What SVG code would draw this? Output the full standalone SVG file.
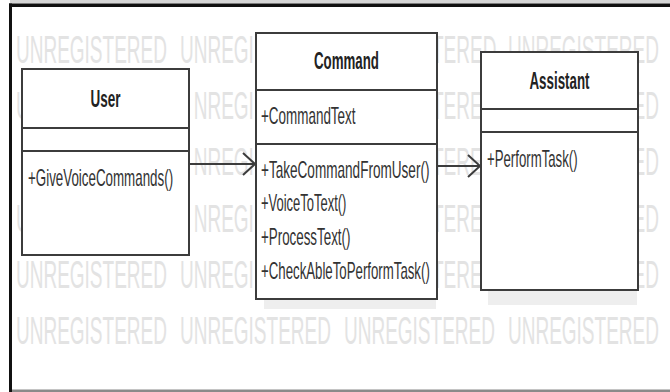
<svg xmlns="http://www.w3.org/2000/svg" width="670" height="392" viewBox="0 0 670 392">
  <style>
    .wm { font-family: "Liberation Sans", Arial, sans-serif; font-size: 38px; fill: #e3e3e3; }
    .box { fill: #ffffff; stroke: #3c3c3c; stroke-width: 2; }
    .sep { stroke: #3c3c3c; stroke-width: 2; }
    .shadow { fill: #eeeeee; }
    .name { font-family: "Liberation Sans", Arial, sans-serif; font-size: 23px; font-weight: bold; fill: #222222; text-anchor: middle; }
    .member { font-family: "Liberation Sans", Arial, sans-serif; font-size: 23px; fill: #333333; }
    .link { fill: none; stroke: #3c3c3c; stroke-width: 2; }
  </style>
  <defs>
    <marker id="open-arrow" markerUnits="userSpaceOnUse" markerWidth="16" markerHeight="26" refX="14" refY="12" orient="auto">
      <path d="M2,1 L14,12 L2,23" fill="none" stroke="#3c3c3c" stroke-width="2"/>
    </marker>
  </defs>

  <!-- page background and frame -->
  <rect x="0" y="0" width="670" height="392" fill="#ffffff"/>
  <rect x="10" y="0" width="660" height="3.5" fill="#d6d6d6"/>
  <rect x="9" y="3.5" width="661" height="3.5" fill="#111111"/>
  <rect x="9" y="3.5" width="3" height="388.5" fill="#111111"/>
  <rect x="12" y="389.5" width="658" height="2.5" fill="#8a8a8a"/>

  <!-- evaluation watermark, condensed to half width; only the parts left uncovered by the class boxes -->
  <g id="watermark" class="wm" transform="scale(0.5,1)">
    <!-- row 1 -->
    <text x="32" y="63">UNREGISTERED</text>
    <text x="360" y="63">UNREGI</text>
    <text x="864" y="63">TERED</text>
    <text x="1016" y="63">UNREGISTERED</text>
    <!-- row 2 -->
    <text x="32" y="119">U</text>
    <text x="387.4" y="119">NREGI</text>
    <text x="864" y="119">TERE</text>
    <text x="1265.2" y="119">ED</text>
    <!-- row 3 -->
    <text x="387.4" y="175">NREGI</text>
    <text x="864" y="175">TERE</text>
    <text x="1265.2" y="175">ED</text>
    <!-- row 4 -->
    <text x="32" y="232">U</text>
    <text x="387.4" y="232">NREGI</text>
    <text x="864" y="232">TERE</text>
    <text x="1265.2" y="232">ED</text>
    <!-- row 5 -->
    <text x="32" y="288">UNREGISTERED</text>
    <text x="360" y="288">UNREGI</text>
    <text x="864" y="288">TERE</text>
    <text x="1265.2" y="288">ED</text>
    <!-- row 6 -->
    <text x="32" y="344">UNREGISTERED</text>
    <text x="360" y="344">UNREGISTERED</text>
    <text x="688" y="344">UNREGISTERED</text>
    <text x="1016" y="344">UNREGISTERED</text>
  </g>

  <!-- connectors -->
  <g id="connectors">
    <line class="link" x1="190" y1="164" x2="255" y2="164" marker-end="url(#open-arrow)"/>
    <line class="link" x1="438" y1="166" x2="480" y2="166" marker-end="url(#open-arrow)"/>
  </g>

  <!-- User class -->
  <g id="user">
    <rect class="box" x="22" y="69" width="167" height="186"/>
    <line class="sep" x1="22" y1="128" x2="189" y2="128"/>
    <line class="sep" x1="22" y1="151" x2="189" y2="151"/>
    <text class="name" transform="translate(105.5,107) scale(0.587,1)">User</text>
    <text class="member" transform="translate(28,186) scale(0.581,1)">+GiveVoiceCommands()</text>
  </g>

  <!-- Command class -->
  <g id="command">
    <rect class="shadow" x="264" y="300" width="172" height="9"/>
    <rect class="box" x="256" y="33" width="181" height="266"/>
    <line class="sep" x1="256" y1="90" x2="437" y2="90"/>
    <line class="sep" x1="256" y1="144" x2="437" y2="144"/>
    <text class="name" transform="translate(346.5,69) scale(0.578,1)">Command</text>
    <text class="member" transform="translate(261,124) scale(0.585,1)">+CommandText</text>
    <text class="member" transform="translate(261,178) scale(0.59,1)">+TakeCommandFromUser()</text>
    <text class="member" transform="translate(261,211) scale(0.564,1)">+VoiceToText()</text>
    <text class="member" transform="translate(261,245) scale(0.581,1)">+ProcessText()</text>
    <text class="member" transform="translate(261,279) scale(0.576,1)">+CheckAbleToPerformTask()</text>
  </g>

  <!-- Assistant class -->
  <g id="assistant">
    <rect class="shadow" x="488" y="291" width="149" height="14"/>
    <rect class="box" x="481" y="52" width="157" height="238"/>
    <line class="sep" x1="481" y1="109" x2="638" y2="109"/>
    <line class="sep" x1="481" y1="132" x2="638" y2="132"/>
    <text class="name" transform="translate(559.5,89) scale(0.58,1)">Assistant</text>
    <text class="member" transform="translate(487,167) scale(0.574,1)">+PerformTask()</text>
  </g>
</svg>
